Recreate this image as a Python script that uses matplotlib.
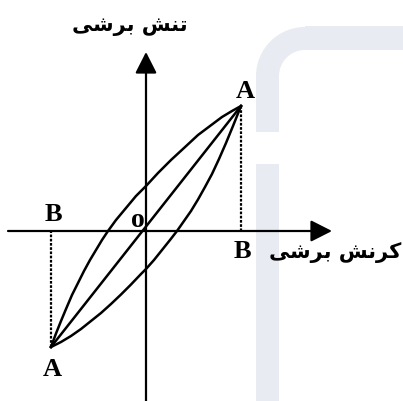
import matplotlib.pyplot as plt
from matplotlib.patches import Rectangle, Wedge

# loop branches (strain, stress), origin at the axes crossing
strain_up = [-95, -90, -85, -80, -74, -68, -62, -56, -50, -44, -38, -30, -20, -10,
             0, 12, 25, 38, 52, 64, 76, 86, 95]
stress_up = [-116, -102.5, -90, -78, -64, -52, -40, -29, -19, -9, 0, 11, 23, 35,
             45, 58, 71, 83, 96, 105, 114, 120, 125]
strain_down = [-95, -85, -75, -65, -55, -45, -35, -25, -15, -5, 0, 8, 16, 24,
               31, 38, 45, 52, 59, 66, 73, 80, 87, 95]
stress_down = [-116, -111, -105, -98, -90, -82, -73, -63.5, -53.5, -43, -38, -29, -19, -9,
               0, 10, 20, 31.5, 44, 57, 72, 88, 105, 125]
peak_strain = [-95, 95]
peak_stress = [-116, 125]

# Persian labels, already in presentation forms and visual (left-to-right) order
y_label = "\uFEF0\uFEB7\uFEAE\uFE91 \uFEB6\uFEE8\uFE97"        # تنش برشی
x_label = "\uFEF0\uFEB7\uFEAE\uFE91 \uFEB6\uFEE7\uFEAE\uFB90"  # کرنش برشی

fig = plt.figure(figsize=(4.03, 4.02), dpi=100)
ax = fig.add_axes([0, 0, 1, 1])
ax.set_xlim(-146, 257)
ax.set_ylim(-170, 232)
ax.axis('off')

# faint watermark in the background
wm = '#e8ebf1'
ax.add_patch(Rectangle((110, 99), 23, 56, color=wm, lw=0, zorder=0))
ax.add_patch(Wedge((159, 155), 49, 90, 180, width=23, color=wm, lw=0, zorder=0))
ax.add_patch(Rectangle((159, 181), 100, 24, color=wm, lw=0, zorder=0))
ax.add_patch(Rectangle((110, -172), 23, 239, color=wm, lw=0, zorder=0))

arrow = dict(arrowstyle='-|>,head_length=0.65,head_width=0.33', mutation_scale=20,
             lw=1.6, color='black', shrinkA=0, shrinkB=0)
ax.annotate('', xy=(186, 0), xytext=(-138, 0), arrowprops=arrow)
ax.annotate('', xy=(0, 179), xytext=(0, -172), arrowprops=arrow)

ax.plot(strain_up, stress_up, color='black', lw=1.8)
ax.plot(strain_down, stress_down, color='black', lw=1.8)
ax.plot(peak_strain, peak_stress, color='black', lw=1.8)
for s, t in zip(peak_strain, peak_stress):
    ax.plot([s, s], [t, 0], color='black', lw=1.6, ls=(0, (1.2, 0.7)))

serif = ['Liberation Serif', 'DejaVu Serif']
letter = dict(family=serif, fontweight='bold', fontsize=19, ha='center', va='center')
ax.text(99, 141, 'A', **letter)
ax.text(-94, -138, 'A', **letter)
ax.text(-92.5, 17, 'B', **letter)
ax.text(96, -20, 'B', **letter)
ax.text(-8.5, 11, 'o', family=serif, fontweight='bold', fontsize=20, ha='center', va='center')

fa = dict(family=['DejaVu Sans'], fontweight='bold', fontsize=15, ha='center', va='center')
ax.text(-16, 206, y_label, **fa)
ax.text(189, -21, x_label, **fa)

plt.savefig('out.png', dpi=100)
